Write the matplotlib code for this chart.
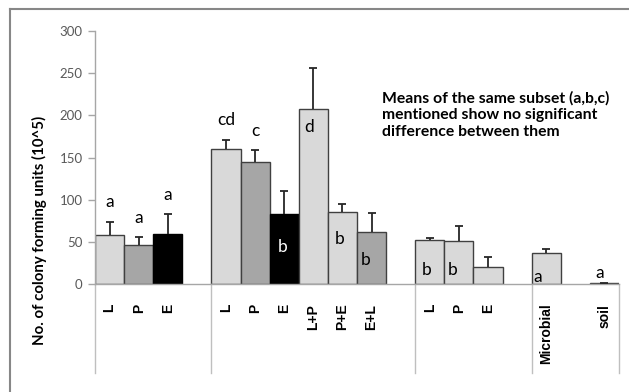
import numpy as np
import matplotlib
matplotlib.use("Agg")
import matplotlib.pyplot as plt
from matplotlib.lines import Line2D

# one slot per category, blank slots separate the groups
labels = ["L", "P", "E", "",
          "L", "P", "E", "L+P", "P+E", "E+L", "",
          "L", "P", "E", "",
          "Microbial", "", "soil"]
means = [58, 47, 60, 0,
         160, 145, 83, 208, 86, 62, 0,
         52, 51, 20, 0,
         37, 0, 1]
errors = [16, 9, 23, 0,
          11, 14, 28, 48, 9, 23, 0,
          3, 18, 12, 0,
          5, 0, 0.5]
shades = ["light", "mid", "black", None,
          "light", "mid", "black", "light", "light", "mid", None,
          "light", "light", "light", None,
          "light", None, "light"]

# letters above the error bars: (slot, letter)
letters_above = [(0, "a"), (1, "a"), (2, "a"), (4, "cd"), (5, "c")]
# letters drawn inside the bars: (slot, letter, y, dx)
letters_inside = [(6, "b", 44, -0.05), (7, "d", 186, -0.15),
                  (8, "b", 54, -0.1), (9, "b", 29, -0.2),
                  (11, "b", 17, -0.1), (12, "b", 17, -0.2),
                  (15, "a", 9, -0.3), (17, "a", 13, -0.15)]
group_edges = [-0.5, 3.5, 10.5, 14.5, 17.5]
note = "Means of the same subset (a,b,c)\nmentioned show no significant\ndifference between them"

colors = {"light": "#d9d9d9", "mid": "#a6a6a6", "black": "#000000"}
W, H = 629, 392
fig = plt.figure(figsize=(W / 100, H / 100), dpi=100)
ax = fig.add_axes([95 / W, 1 - 284.3 / H, 524 / W, 253.3 / H])

x = np.arange(len(labels))
for i, (m, e, s) in enumerate(zip(means, errors, shades)):
    if s is None:
        continue
    ax.bar(i, m, width=1.0, color=colors[s],
           edgecolor="#000000" if s == "black" else "#404040", lw=1.0, zorder=2)
    # plus-only error bar: stem and a cap on top
    ax.plot([i, i], [m, m + e], color="#262626", lw=1.3, zorder=3,
            solid_capstyle="butt")
    ax.plot([i], [m + e], marker="_", ms=6, mew=1.3, color="#262626", zorder=3)

ax.set_xlim(-0.5, 17.5)
ax.set_ylim(0, 300)
ax.set_yticks(np.arange(0, 301, 50))
ax.tick_params(axis="y", direction="out", length=5, width=1, color="#a6a6a6",
               labelcolor="#595959", labelsize=9.5, pad=4)
for t in ax.get_yticklabels():
    t.set_family("Lato")
ax.set_xticks(x)
ax.set_xticklabels(labels, rotation=90, fontweight="bold",
                   family="Liberation Sans", fontsize=10)
ax.tick_params(axis="x", length=0, pad=14)

for side in ["top", "right"]:
    ax.spines[side].set_visible(False)
for side in ["left", "bottom"]:
    ax.spines[side].set_color("#a6a6a6")
    ax.spines[side].set_linewidth(1.0)

# group dividers under the category axis
for g in group_edges:
    ax.add_line(Line2D([g, g], [0, -105], color="#bfbfbf", lw=1.0, clip_on=False))

for i, t in letters_above:
    ax.annotate(t, (i, means[i] + errors[i]), xytext=(0, 14), textcoords="offset points",
                ha="center", va="center", family="Lato", fontsize=12.5)
for i, t, y, dx in letters_inside:
    ax.text(i + dx, y, t, ha="center", va="center", family="Lato", fontsize=12.5,
            color="white" if shades[i] == "black" else "black")

fig.text(382 / W, 1 - 115 / H, note, ha="left", va="center", fontsize=11.3,
         fontweight="bold", family="Lato", linespacing=1.25)
fig.text(39 / W, 1 - 230 / H, "No. of colony forming units (10^5)", rotation=90,
         ha="center", va="center", fontsize=10.8, fontweight="bold",
         family="Lato")

# chart frame
fig.add_artist(Line2D([10 / W, 10 / W], [0, 1 - 9 / H], color="#878787", lw=1.5))
fig.add_artist(Line2D([10 / W, 1], [1 - 9 / H, 1 - 9 / H], color="#878787", lw=1.5))

fig.savefig("out.png", dpi=100)
